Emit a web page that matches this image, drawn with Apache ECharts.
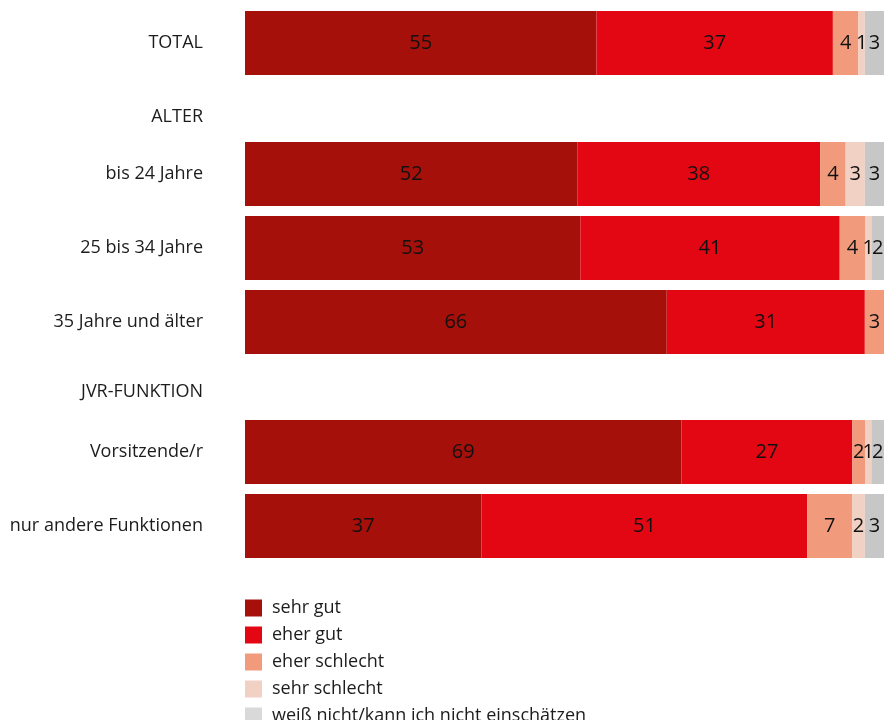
<!DOCTYPE html>
<html>
<head>
<meta charset="utf-8">
<script src="https://cdn.jsdelivr.net/npm/echarts@6/dist/echarts.min.js"></script>
<style>
  html, body { margin: 0; padding: 0; background: #fff; }
  #chart { width: 884px; height: 720px; }
</style>
</head>
<body>
<div id="chart"></div>
<script>
// Row labels (bars) and group headings
const rows = ['TOTAL', 'bis 24 Jahre', '25 bis 34 Jahre', '35 Jahre und älter', 'Vorsitzende/r', 'nur andere Funktionen'];
const headings = ['ALTER', 'JVR-FUNKTION'];

// Answer categories
const answers = ['sehr gut', 'eher gut', 'eher schlecht', 'sehr schlecht', 'weiß nicht/kann ich nicht einschätzen'];

// Percentages per answer, in row order
const sehrGut      = [55, 52, 53, 66, 69, 37];
const eherGut      = [37, 38, 41, 31, 27, 51];
const eherSchlecht = [4, 4, 4, 3, 2, 7];
const sehrSchlecht = [1, 3, 1, 0, 1, 2];
const weissNicht   = [3, 3, 2, 0, 2, 3];

const seriesValues = [sehrGut, eherGut, eherSchlecht, sehrSchlecht, weissNicht];
const colors = ['#a5100a', '#e30613', '#f29b7c', '#f1d1c3', '#c7c7c7'];

const FONT = '"Open Sans"';
const TEXT = '#1c1c1c';
const LEFT = 245;
const BAR_H = 64;
// vertical placement of each bar row and heading
const rowTops = [11, 142, 216, 290, 420, 494];
const headingY = [115, 390];

const grids = [], xAxes = [], yAxes = [], series = [];
rows.forEach((name, r) => {
  // each row is its own 100% bar: the axis spans the row's total
  const total = seriesValues.reduce((s, arr) => s + arr[r], 0);
  grids.push({ left: LEFT, right: 0, top: rowTops[r], height: BAR_H });
  xAxes.push({ gridIndex: r, type: 'value', min: 0, max: total, show: false });
  yAxes.push({
    gridIndex: r, type: 'category', data: [name],
    axisLine: { show: false }, axisTick: { show: false },
    axisLabel: { margin: 42, fontFamily: FONT, fontSize: 18, color: TEXT, padding: [2, 0, 0, 0] }
  });
  answers.forEach((a, i) => {
    series.push({
      name: a, type: 'bar', stack: 'row' + r,
      xAxisIndex: r, yAxisIndex: r,
      barWidth: BAR_H,
      itemStyle: { color: colors[i] },
      label: {
        show: true, position: 'inside', fontFamily: FONT, fontSize: 20,
        color: '#111',
        formatter: p => (p.value > 0 ? p.value : '')
      },
      emphasis: { disabled: true },
      data: [seriesValues[i][r] > 0 ? seriesValues[i][r] : null]
    });
  });
});

// legend: one column, the last entry runs to the bottom edge
const legendBase = {
  orient: 'vertical', left: LEFT - 5,
  icon: 'rect', itemWidth: 17, itemHeight: 17, itemGap: 9,
  textStyle: { fontFamily: FONT, fontSize: 18, color: TEXT, padding: [0, 0, 0, 5] }
};
const legendItem = (a, i) => ({ name: a, itemStyle: { color: i === 4 ? '#d9d9d9' : colors[i] } });

const chart = echarts.init(document.getElementById('chart'), null, { renderer: 'canvas' });
chart.setOption({
  animation: false,
  grid: grids,
  xAxis: xAxes,
  yAxis: yAxes,
  legend: [
    Object.assign({}, legendBase, { top: 594, data: answers.slice(0, 4).map(legendItem) }),
    Object.assign({}, legendBase, { top: 702, data: [legendItem(answers[4], 4)] })
  ],
  graphic: headings.map((h, i) => ({
    type: 'text', right: 884 - 203, top: headingY[i] - 7,
    style: { text: h, font: '18px ' + FONT, fill: TEXT, textAlign: 'right' }
  })),
  series: series
});
</script>
</body>
</html>
